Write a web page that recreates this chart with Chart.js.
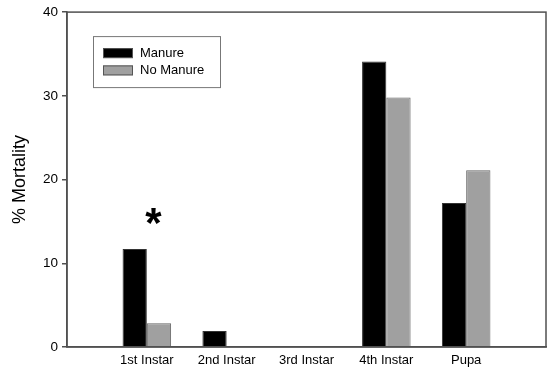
<!DOCTYPE html>
<html>
<head>
<meta charset="utf-8">
<script src="https://cdn.jsdelivr.net/npm/chart.js@4.4.1/dist/chart.umd.min.js"></script>
<style>
  html, body { margin: 0; padding: 0; background: #fff; }
  #wrap { width: 552px; height: 373px; }
</style>
</head>
<body>
<div id="wrap"><canvas id="c" width="552" height="373"></canvas></div>
<script>
// Data
const categories = ['1st Instar', '2nd Instar', '3rd Instar', '4th Instar', 'Pupa'];
const manure = [11.7, 1.9, 0, 34.1, 17.2];
const noManure = [2.85, 0, 0, 29.8, 21.1];
const seriesNames = ['Manure', 'No Manure'];
const yTicks = [0, 10, 20, 30, 40];
const significant = ['1st Instar'];   // category marked with an asterisk
const starLevel = 15.6;               // value at which the asterisk sits

// padded labels so categories sit at equal spacing with half-free ends
const labels = [''].concat(categories, ['']);
const pad = arr => [null].concat(arr, [null]);

const FONT = "'Liberation Sans', Arial, sans-serif";
const AXIS = '#505050';

const framePlugin = {
  id: 'frame',
  afterDatasetsDraw(chart) {
    const {ctx, chartArea: a} = chart;
    ctx.save();
    ctx.strokeStyle = AXIS;
    ctx.lineWidth = 1.5;
    ctx.strokeRect(a.left, a.top, a.right - a.left, a.bottom - a.top);
    ctx.restore();
  }
};

const legendPlugin = {
  id: 'boxLegend',
  afterDraw(chart) {
    const {ctx, chartArea: a} = chart;
    const x0 = a.left + 26, y0 = a.top + 24, w = 127, h = 51;
    ctx.save();
    ctx.fillStyle = '#fff';
    ctx.fillRect(x0, y0, w, h);
    ctx.strokeStyle = '#777';
    ctx.lineWidth = 1;
    ctx.strokeRect(x0 + 0.5, y0 + 0.5, w, h);
    chart.data.datasets.forEach((ds, i) => {
      const sy = y0 + 12 + i * 17.3;
      ctx.fillStyle = ds.backgroundColor;
      ctx.fillRect(x0 + 10, sy, 30, 10);
      ctx.strokeStyle = '#555';
      ctx.lineWidth = 1;
      ctx.strokeRect(x0 + 10.5, sy + 0.5, 29, 9);
      ctx.fillStyle = '#000';
      ctx.font = '13px ' + FONT;
      ctx.textBaseline = 'middle';
      ctx.textAlign = 'left';
      ctx.fillText(ds.label, x0 + 47, sy + 5.5);
    });
    ctx.restore();
  }
};

const starPlugin = {
  id: 'star',
  afterDraw(chart) {
    const {ctx, scales} = chart;
    ctx.save();
    ctx.font = 'bold 42px ' + FONT;
    ctx.fillStyle = '#000';
    ctx.textAlign = 'center';
    ctx.textBaseline = 'alphabetic';
    significant.forEach(cat => {
      const idx = labels.indexOf(cat);
      const m = ctx.measureText('*');
      const x = scales.x.getPixelForValue(idx) + 6.5;
      const y = scales.y.getPixelForValue(starLevel);
      const midOff = (m.actualBoundingBoxAscent - m.actualBoundingBoxDescent) / 2;
      ctx.fillText('*', x, y + midOff);
    });
    ctx.restore();
  }
};

new Chart(document.getElementById('c'), {
  type: 'bar',
  data: {
    labels: labels,
    datasets: [
      { label: seriesNames[0], data: pad(manure), backgroundColor: '#000000', borderColor: '#333333', borderWidth: 1 },
      { label: seriesNames[1], data: pad(noManure), backgroundColor: '#a0a0a0', borderColor: '#666666', borderWidth: 1 }
    ]
  },
  options: {
    responsive: false,
    animation: false,
    devicePixelRatio: 1,
    layout: { padding: { left: 0, top: 12, right: 6, bottom: 0 } },
    datasets: { bar: { categoryPercentage: 0.608, barPercentage: 1.0 } },
    plugins: { legend: { display: false }, tooltip: { enabled: false } },
    scales: {
      x: {
        offset: false,
        grid: { display: false, drawTicks: false },
        border: { display: true, color: AXIS, width: 1.5 },
        ticks: {
          color: '#000', font: { family: FONT, size: 13 }, padding: 6,
          autoSkip: false, maxRotation: 0,
          callback: function(v) { return labels[v]; }
        },
        afterFit(s) { s.height = 26; }
      },
      y: {
        min: 0, max: 40,
        afterBuildTicks(s) { s.ticks = yTicks.map(v => ({ value: v })); },
        grid: { display: true, drawOnChartArea: false, drawTicks: true, tickLength: 5, color: AXIS, lineWidth: 1.5 },
        border: { display: true, color: AXIS, width: 1.5 },
        ticks: { color: '#000', font: { family: FONT, size: 13.5 }, padding: 4 },
        title: { display: true, text: '% Mortality', color: '#000', font: { family: FONT, size: 18 }, padding: { top: 9, bottom: 0 } },
        afterFit(s) { s.width = 67; }
      }
    }
  },
  plugins: [framePlugin, legendPlugin, starPlugin]
});
</script>
</body>
</html>
